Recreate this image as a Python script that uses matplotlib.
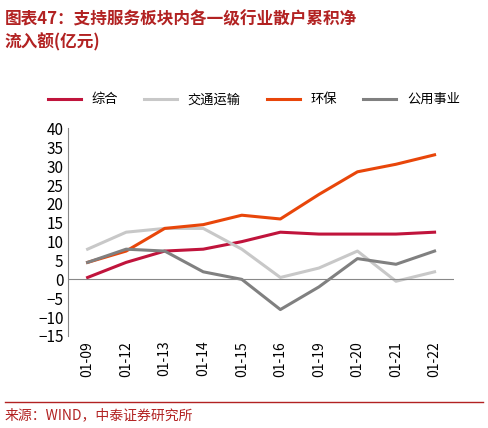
import matplotlib
matplotlib.use("Agg")
import matplotlib.pyplot as plt

plt.rcParams['font.family'] = ['Noto Sans CJK SC', 'DejaVu Sans']

cats = ["01-09","01-12","01-13","01-14","01-15","01-16","01-19","01-20","01-21","01-22"]
zonghe = [0.5, 4.5, 7.5, 8, 10, 12.5, 12, 12, 12, 12.5]
jiaotong = [8, 12.5, 13.5, 13.5, 8, 0.5, 3, 7.5, -0.5, 2]
huanbao = [4.5, 7.5, 13.5, 14.5, 17, 16, 22.5, 28.5, 30.5, 33]
gongyong = [4.5, 8, 7.5, 2, 0, -8, -2, 5.5, 4, 7.5]
names = ["综合", "交通运输", "环保", "公用事业"]
colors = ["#c0143c", "#c8c8c8", "#e8460a", "#808080"]

fig = plt.figure(figsize=(4.88, 4.28), dpi=100)
fig.text(0.01, 0.975, "图表47：支持服务板块内各一级行业散户累积净\n流入额(亿元)", color="#b22222",
         fontsize=12, fontweight="bold", style="italic", va="top", linespacing=1.3)
ax = fig.add_axes([0.14, 0.215, 0.79, 0.485])
x = range(len(cats))
for d, n, c in zip([zonghe, jiaotong, huanbao, gongyong], names, colors):
    ax.plot(x, d, color=c, lw=2.2, label=n)
ax.set_ylim(-15, 40)
ax.set_yticks(range(-15, 41, 5))
ax.set_xlim(-0.5, len(cats) - 0.5)
ax.set_xticks(list(x))
ax.set_xticklabels(cats, rotation=90, fontsize=10)
ax.tick_params(axis='y', labelsize=11, length=0)
ax.tick_params(axis='x', length=0)
for s in ["top", "right", "bottom"]:
    ax.spines[s].set_visible(False)
ax.spines["left"].set_color("#888888")
ax.axhline(0, color="#888888", lw=0.8)
fig.legend(loc="upper center", bbox_to_anchor=(0.52, 0.81), ncol=4, frameon=False,
           fontsize=9.5, handlelength=2.5, columnspacing=2)
fig.add_artist(plt.Line2D([0.01, 0.99], [0.06, 0.06], color="#b22222", lw=1))
fig.text(0.01, 0.03, "来源：WIND，中泰证券研究所", color="#b22222", fontsize=10, va="center")
fig.savefig("out.png", dpi=100)
